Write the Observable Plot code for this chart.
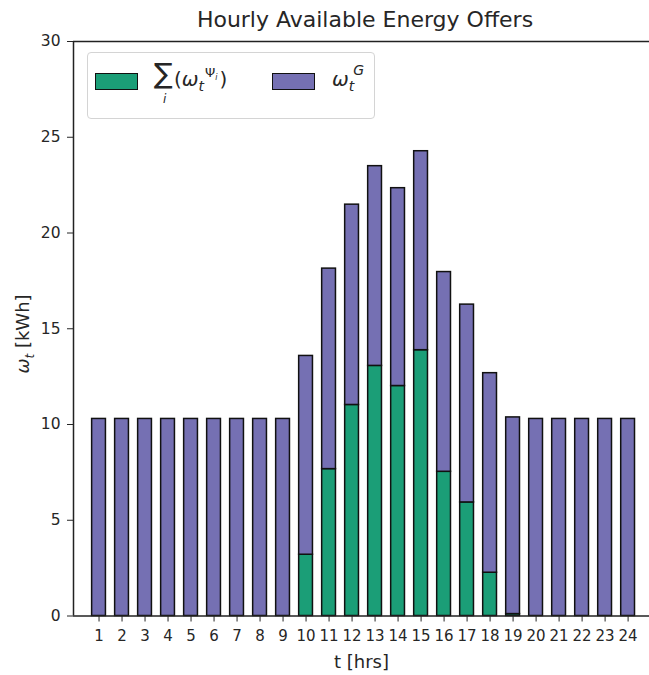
<!DOCTYPE html>
<html>
<head>
<meta charset="utf-8">
<script src="https://cdn.jsdelivr.net/npm/d3@7"></script>
<script src="https://cdn.jsdelivr.net/npm/@observablehq/plot@0.6"></script>
<style>
  html, body { margin: 0; padding: 0; background: white; }
  #wrap { position: relative; width: 649px; height: 675px; overflow: hidden; font-family: "DejaVu Sans", sans-serif; color: #262626; }
  #title { position: absolute; left: 0; width: 730px; top: 9px; text-align: center; font-size: 22px; line-height: 22px; }
  #ylab { position: absolute; left: 23px; top: 334px; transform: translate(-50%, -50%) rotate(-90deg); font-size: 18px; line-height: 18px; white-space: nowrap; }
  #ylab span { line-height: 0; }
  #legend { position: absolute; left: 87px; top: 52px; width: 288px; height: 67px; border: 1px solid #d4d4d4; border-radius: 4px; background: rgba(255,255,255,0.85); box-sizing: border-box; }
  .patch { position: absolute; width: 43px; height: 17px; border: 1.5px solid #111; box-sizing: border-box; }
  .ltext { position: absolute; font-size: 20px; line-height: 20px; white-space: nowrap; }
  .ltext span { line-height: 0; }
  i { font-style: italic; }
</style>
</head>
<body>
<div id="wrap">
  <div id="chart"></div>
  <div id="title">Hourly Available Energy Offers</div>
  <div id="ylab"><i>ω</i><span style="position:relative; top:5px; font-size:12px;"><i>t</i></span> [kWh]</div>
  <div id="legend">
    <div class="patch" style="left:7px; top:20px; background:#1b9e77"></div>
    <div class="ltext" style="left:66px; top:7px; font-size:28px; line-height:28px;">∑</div>
    <div class="ltext" style="left:75px; top:40px; font-size:12px; line-height:12px;"><i>i</i></div>
    <div class="ltext" style="left:86px; top:16px;">(<i>ω</i><span style="position:relative; top:5px; font-size:14px;"><i>t</i></span><span style="position:relative; top:-9px; left:1px; font-size:13px;">Ψ<span style="position:relative; top:3px; font-size:8px;"><i>i</i></span></span><span style="position:relative; left:3px;">)</span></div>
    <div class="patch" style="left:184px; top:20px; background:#7570b3"></div>
    <div class="ltext" style="left:244px; top:16px;"><i>ω</i><span style="position:relative; top:5px; font-size:14px;"><i>t</i></span><span style="position:relative; top:-11px; left:-1px; font-size:14px;"><i>G</i></span></div>
  </div>
</div>
<script>
const hours = [1,2,3,4,5,6,7,8,9,10,11,12,13,14,15,16,17,18,19,20,21,22,23,24];
const prosumerOffers = [0,0,0,0,0,0,0,0,0,3.2,7.67,11.02,13.06,12.01,13.88,7.53,5.93,2.26,0.1,0,0,0,0,0];
const gridOffers = [10.29,10.29,10.29,10.29,10.29,10.29,10.29,10.29,10.29,10.38,10.47,10.46,10.43,10.33,10.39,10.43,10.33,10.42,10.27,10.29,10.29,10.29,10.29,10.29];
const yTicks = [0,5,10,15,20,25,30];

const data = hours.map((t, i) => ({t, green: prosumerOffers[i], grid: gridOffers[i]}));
const halfWidth = 0.3;

const chart = Plot.plot({
  width: 649,
  height: 675,
  marginLeft: 73,
  marginRight: 0,
  marginTop: 41,
  marginBottom: 59.5,
  style: {fontFamily: "DejaVu Sans, sans-serif", fontSize: "15px", color: "#262626", background: "white"},
  x: {type: "linear", domain: [-0.11, 24.93]},
  y: {domain: [0, 30]},
  marks: [
    Plot.rect(data, {x1: d => d.t - halfWidth, x2: d => d.t + halfWidth, y1: 0, y2: d => d.green, fill: "#1b9e77", stroke: "#111", strokeWidth: 1.5}),
    Plot.rect(data, {x1: d => d.t - halfWidth, x2: d => d.t + halfWidth, y1: d => d.green, y2: d => d.green + d.grid, fill: "#7570b3", stroke: "#111", strokeWidth: 1.5}),
    Plot.ruleY([0], {stroke: "#222", strokeWidth: 1.5}),
    Plot.ruleY([30], {stroke: "#222", strokeWidth: 1.5}),
    Plot.ruleX([-0.11], {stroke: "#222", strokeWidth: 1.5}),
    Plot.axisX({ticks: hours, tickFormat: d => String(d), tickSize: 6, tickPadding: 8, label: null, fontSize: 15}),
    Plot.axisY({ticks: yTicks, tickFormat: d => String(d), tickSize: 6, tickPadding: 7, label: null, fontSize: 15.5}),
    Plot.text(["t [hrs]"], {frameAnchor: "bottom", dy: 52, fontSize: 18, fill: "#262626"})
  ]
});
document.getElementById("chart").appendChild(chart);
</script>
</body>
</html>
